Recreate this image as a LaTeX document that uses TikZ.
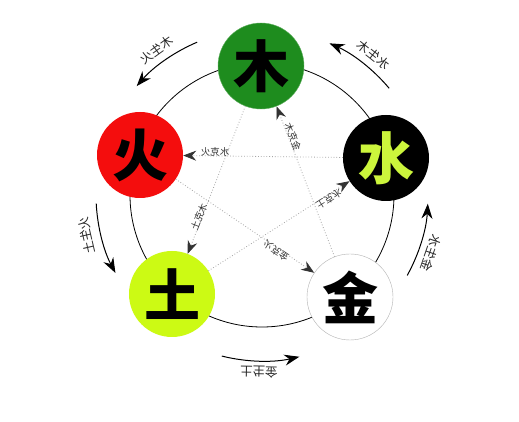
\documentclass[tikz,border=0pt]{standalone}
\usepackage{fontspec}
\newfontfamily\cjk{Noto Sans CJK SC}
\usetikzlibrary{arrows.meta,calc}
\definecolor{mugreen}{HTML}{1E8C1E}
\definecolor{firered}{HTML}{F40D0D}
\definecolor{limey}{HTML}{CCF53C}
\definecolor{earthlime}{HTML}{CCFA14}
\tikzset{
  elem/.style={circle, minimum size=86pt, inner sep=0pt, font=\cjk\bfseries\fontsize{56}{56}\selectfont},
  ring/.style={line width=0.8pt, black},
  gen/.style={line width=1pt, black, -{Stealth[length=15pt,width=11pt]}},
  ke/.style={dotted, line width=0.8pt, gray!70, -{Stealth[length=13pt,width=10pt,color=black!80]}},
  glab/.style={font=\cjk\fontsize{12.5}{12.5}\selectfont, inner sep=1pt, text=black!85},
  klab/.style={font=\cjk\fontsize{9.5}{9.5}\selectfont, inner sep=1pt, text=black!80},
}
\begin{document}
\begin{tikzpicture}[x=1pt,y=1pt]
\fill[white] (0,0) rectangle (519,422);
\useasboundingbox (0,0) rectangle (519,422);
\coordinate (c) at (262,227);
% big ring
\draw[ring] (c) circle[radius=132pt];
% elements
\node[elem, fill=mugreen, draw=mugreen!70!white] (mu) at (261,356) {木};
\node[elem, fill=firered] (huo) at (140,267) {火};
\node[elem, fill=black, text=limey] (shui) at (386,264) {水};
\node[elem, fill=earthlime] (tu) at (172,128) {土};
\node[elem, fill=white, draw=gray!60] (jin) at (350,125) {金};
% overcoming cycle (dotted)
\draw[ke] (shui) -- (huo);
\draw[ke] (jin) -- (mu);
\draw[ke] (mu) -- (tu);
\draw[ke] (tu) -- (shui);
\draw[ke] (huo) -- (jin);
\node[klab, xscale=-1] (k1) at (215,270) {水克火};
\node[klab, rotate=-68.9, xscale=-1] (k2) at (293,285) {金克木};
\node[klab, rotate=68.7, xscale=-1] (k3) at (199,205) {木克土};
\node[klab, rotate=212.4, xscale=-1] (k4) at (329,223) {土克水};
\node[klab, rotate=145.9, xscale=-1] (k5) at (276,171) {火克金};
% generating cycle (outer arcs)
\coordinate (a1) at ($(c)+(113:166pt)$);
\coordinate (a2) at ($(c)+(40:166pt)$);
\coordinate (a3) at ($(c)+(-29:166pt)$);
\coordinate (a4) at ($(c)+(-104:166pt)$);
\coordinate (a5) at ($(c)+(183:166pt)$);
\draw[gen] (a1) arc[start angle=113, end angle=139, radius=166pt];
\draw[gen] (a2) arc[start angle=40, end angle=66, radius=166pt];
\draw[gen] (a3) arc[start angle=-29, end angle=-3, radius=166pt];
\draw[gen] (a4) arc[start angle=-104, end angle=-77, radius=166pt];
\draw[gen] (a5) arc[start angle=183, end angle=208, radius=166pt];
\node[glab, rotate=36, xscale=-1] (g1) at ($(c)+(126:179pt)$) {木生火};
\node[glab, rotate=-38.5, xscale=-1] (g2) at ($(c)+(51.5:179pt)$) {水生木};
\node[glab, rotate=-109, xscale=-1] (g3) at ($(c)+(-19:179pt)$) {金生水};
\node[glab, rotate=-181, xscale=-1] (g4) at ($(c)+(-91:177pt)$) {土生金};
\node[glab, rotate=103, xscale=-1] (g5) at ($(c)+(193:180pt)$) {火生土};
\end{tikzpicture}
\end{document}
